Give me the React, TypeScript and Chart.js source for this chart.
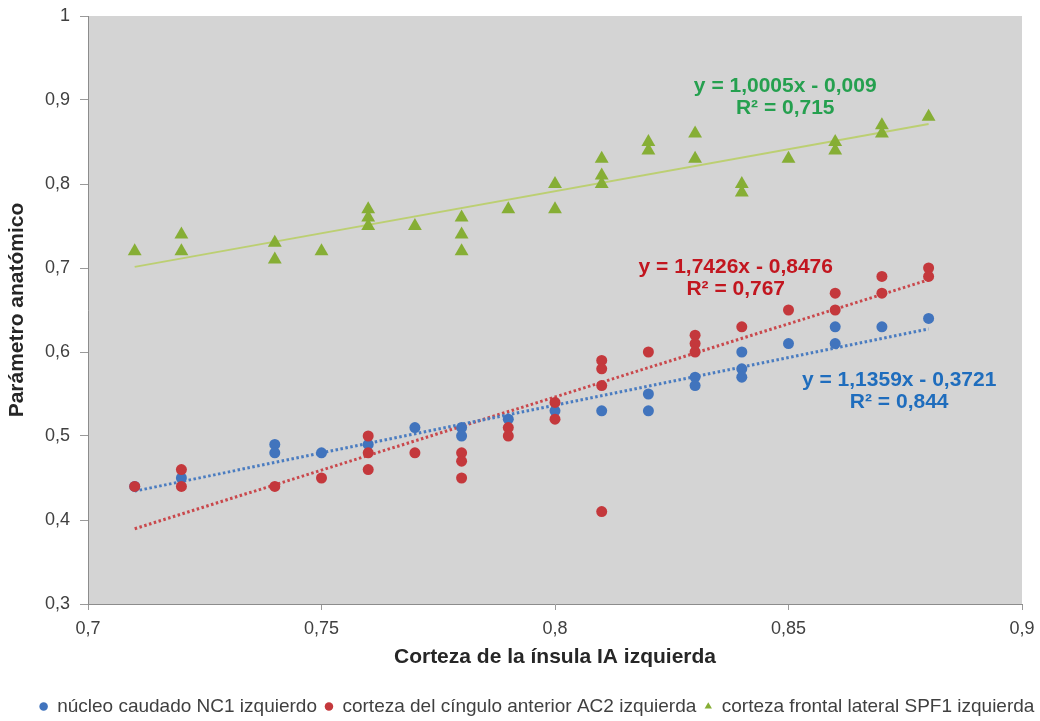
import React, { useEffect, useRef } from 'react';
import { Chart, registerables } from 'chart.js';

Chart.register(...registerables);

// ---- Data ----
const seriesNames = [
  'núcleo caudado NC1 izquierdo',
  'corteza del cíngulo anterior AC2 izquierda',
  'corteza frontal lateral SPF1 izquierda',
];

const nc1X = [0.71, 0.72, 0.74, 0.74, 0.75, 0.76, 0.77, 0.78, 0.78, 0.79, 0.80, 0.81, 0.82, 0.82, 0.83, 0.83, 0.84, 0.84, 0.84, 0.85, 0.86, 0.86, 0.87, 0.88];
const nc1Y = [0.44, 0.45, 0.49, 0.48, 0.48, 0.49, 0.51, 0.51, 0.50, 0.52, 0.53, 0.53, 0.55, 0.53, 0.57, 0.56, 0.60, 0.58, 0.57, 0.61, 0.63, 0.61, 0.63, 0.64];

const ac2X = [0.71, 0.72, 0.72, 0.74, 0.75, 0.76, 0.76, 0.76, 0.77, 0.78, 0.78, 0.78, 0.79, 0.79, 0.80, 0.80, 0.81, 0.81, 0.81, 0.81, 0.82, 0.83, 0.83, 0.83, 0.84, 0.85, 0.86, 0.86, 0.87, 0.87, 0.88, 0.88];
const ac2Y = [0.44, 0.46, 0.44, 0.44, 0.45, 0.50, 0.48, 0.46, 0.48, 0.48, 0.47, 0.45, 0.51, 0.50, 0.54, 0.52, 0.59, 0.58, 0.56, 0.41, 0.60, 0.62, 0.61, 0.60, 0.63, 0.65, 0.67, 0.65, 0.69, 0.67, 0.70, 0.69];

const spf1X = [0.71, 0.72, 0.72, 0.74, 0.74, 0.75, 0.76, 0.76, 0.76, 0.77, 0.78, 0.78, 0.78, 0.79, 0.80, 0.80, 0.81, 0.81, 0.81, 0.82, 0.82, 0.83, 0.83, 0.84, 0.84, 0.85, 0.86, 0.86, 0.87, 0.87, 0.88];
const spf1Y = [0.72, 0.74, 0.72, 0.73, 0.71, 0.72, 0.77, 0.76, 0.75, 0.75, 0.76, 0.74, 0.72, 0.77, 0.80, 0.77, 0.83, 0.81, 0.80, 0.85, 0.84, 0.86, 0.83, 0.80, 0.79, 0.83, 0.85, 0.84, 0.87, 0.86, 0.88];

// Linear trend lines (from equations shown on chart): NC1, AC2, SPF1
const trendSlopes = [1.1359, 1.7426, 1.0005];
const trendIntercepts = [-0.3721, -0.8476, -0.009];
const trendLabels = [
  ['y = 1,1359x - 0,3721', 'R² = 0,844'],
  ['y = 1,7426x - 0,8476', 'R² = 0,767'],
  ['y = 1,0005x - 0,009', 'R² = 0,715'],
];
// label anchor (data units): center x, y of first line
const labelAnchorX = [0.8737, 0.8387, 0.8493];
const labelAnchorY = [0.5667, 0.7012, 0.9167];

const xTicks = [0.7, 0.75, 0.8, 0.85, 0.9];
const yTicks = [0.3, 0.4, 0.5, 0.6, 0.7, 0.8, 0.9, 1];

const xTitle = 'Corteza de la ínsula IA izquierda';
const yTitle = 'Parámetro anatómico';

// ---- Styles ----
const pointColors = ['#4174bd', '#c4383c', '#86ae35'];
const trendColors = ['#4a7cc0', '#c9484c', '#bccf72'];
const labelColors = ['#1f6dbd', '#c2161f', '#25a04f'];
const FONT = '"Liberation Sans", Arial, sans-serif';

const toPts = (xs: number[], ys: number[]) => xs.map((x, i) => ({ x, y: ys[i] }));
const fmt = (v: number) => String(Number(Number(v).toFixed(2))).replace('.', ',');

export default function App() {
  const ref = useRef<HTMLCanvasElement | null>(null);

  useEffect(() => {
    if (!ref.current) return;
    const allX = [nc1X, ac2X, spf1X];
    const trendData = trendSlopes.map((m, i) => {
      const lo = Math.min(...allX[i]);
      const hi = Math.max(...allX[i]);
      return [
        { x: lo, y: m * lo + trendIntercepts[i] },
        { x: hi, y: m * hi + trendIntercepts[i] },
      ];
    });

    const bgPlugin = {
      id: 'plotBg',
      afterLayout(chart: any) {
        // the reference legend row sits slightly right of centre
        if (chart.legend) {
          chart.legend.left += 26;
          chart.legend.right += 26;
        }
      },
      beforeDraw(chart: any) {
        const { ctx, chartArea } = chart;
        ctx.save();
        ctx.fillStyle = '#d4d4d4';
        ctx.fillRect(chartArea.left, chartArea.top, chartArea.right - chartArea.left, chartArea.bottom - chartArea.top);
        ctx.restore();
      },
    };

    const eqPlugin = {
      id: 'eqLabels',
      afterDatasetsDraw(chart: any) {
        const { ctx } = chart;
        const xs = chart.scales.x;
        const ys = chart.scales.y;
        ctx.save();
        ctx.font = `bold 21px ${FONT}`;
        ctx.textAlign = 'center';
        ctx.textBaseline = 'middle';
        trendLabels.forEach((lines, i) => {
          const cx = xs.getPixelForValue(labelAnchorX[i]);
          const cy = ys.getPixelForValue(labelAnchorY[i]);
          ctx.fillStyle = labelColors[i];
          lines.forEach((t, j) => ctx.fillText(t, cx, cy + j * 22));
        });
        ctx.restore();
      },
    };

    const legendOrder = [1, 0, 2]; // dataset index -> legend position
    const chart = new Chart(ref.current, {
      type: 'scatter',
      data: {
        datasets: [
          {
            label: seriesNames[1], data: toPts(ac2X, ac2Y), pointStyle: 'circle', pointRadius: 5.5,
            backgroundColor: pointColors[1], borderColor: pointColors[1], borderWidth: 0,
          },
          {
            label: seriesNames[0], data: toPts(nc1X, nc1Y), pointStyle: 'circle', pointRadius: 5.5,
            backgroundColor: pointColors[0], borderColor: pointColors[0], borderWidth: 0,
          },
          {
            label: seriesNames[2], data: toPts(spf1X, spf1Y), pointStyle: 'triangle', pointRadius: 8,
            backgroundColor: pointColors[2], borderColor: pointColors[2], borderWidth: 0,
          },
          {
            label: 'trend0', data: trendData[0], showLine: true, pointRadius: 0,
            borderColor: trendColors[0], borderWidth: 3, borderDash: [2.5, 2.5], borderCapStyle: 'butt',
          },
          {
            label: 'trend1', data: trendData[1], showLine: true, pointRadius: 0,
            borderColor: trendColors[1], borderWidth: 3, borderDash: [2.5, 2.5], borderCapStyle: 'butt',
          },
          {
            label: 'trend2', data: trendData[2], showLine: true, pointRadius: 0,
            borderColor: trendColors[2], borderWidth: 2,
          },
        ] as any,
      },
      options: {
        animation: false,
        responsive: true,
        maintainAspectRatio: false,
        layout: { padding: { top: 16, right: 18, left: 0, bottom: 0 } },
        plugins: {
          tooltip: { enabled: false },
          legend: {
            position: 'bottom',
            labels: {
              filter: (item: any) => item.datasetIndex < 3,
              sort: (a: any, b: any) => legendOrder[a.datasetIndex] - legendOrder[b.datasetIndex],
              usePointStyle: true,
              boxHeight: 6,
              boxWidth: 8,
              padding: 8,
              color: '#404040',
              font: { family: FONT, size: 19 },
            },
          },
        },
        scales: {
          x: {
            type: 'linear',
            min: 0.7,
            max: 0.9,
            afterBuildTicks: (s: any) => { s.ticks = xTicks.map((v) => ({ value: v })); },
            afterFit: (s: any) => { s.height = 85; },
            ticks: {
              callback: (v: any) => fmt(v),
              color: '#404040',
              padding: 5,
              font: { family: FONT, size: 18, lineHeight: 1.55 },
              maxRotation: 0,
            },
            grid: { drawOnChartArea: false, drawTicks: true, tickLength: 6, color: '#9a9a9a' },
            border: { display: true, color: '#8c8c8c', width: 1 },
            title: {
              display: true, text: xTitle, color: '#262626',
              font: { family: FONT, size: 21, weight: 'bold' },
              padding: { top: 0, bottom: 19 },
            },
          },
          y: {
            type: 'linear',
            min: 0.3,
            max: 1,
            afterBuildTicks: (s: any) => { s.ticks = yTicks.map((v) => ({ value: v })); },
            afterFit: (s: any) => { s.width = 88; },
            ticks: {
              callback: (v: any) => fmt(v),
              color: '#404040',
              padding: 10,
              font: { family: FONT, size: 18, lineHeight: 0.6 },
            },
            grid: { drawOnChartArea: false, drawTicks: true, tickLength: 8, color: '#9a9a9a' },
            border: { display: true, color: '#8c8c8c', width: 1 },
            title: {
              display: true, text: yTitle, color: '#262626',
              font: { family: FONT, size: 21, weight: 'bold' },
              padding: { top: 5, bottom: 0 },
            },
          },
        },
      } as any,
      plugins: [bgPlugin, eqPlugin],
    });
    return () => chart.destroy();
  }, []);

  return (
    <div style={{ position: 'fixed', left: 0, top: 0, width: 1040, height: 726, background: '#fff' }}>
      <canvas ref={ref} />
    </div>
  );
}
